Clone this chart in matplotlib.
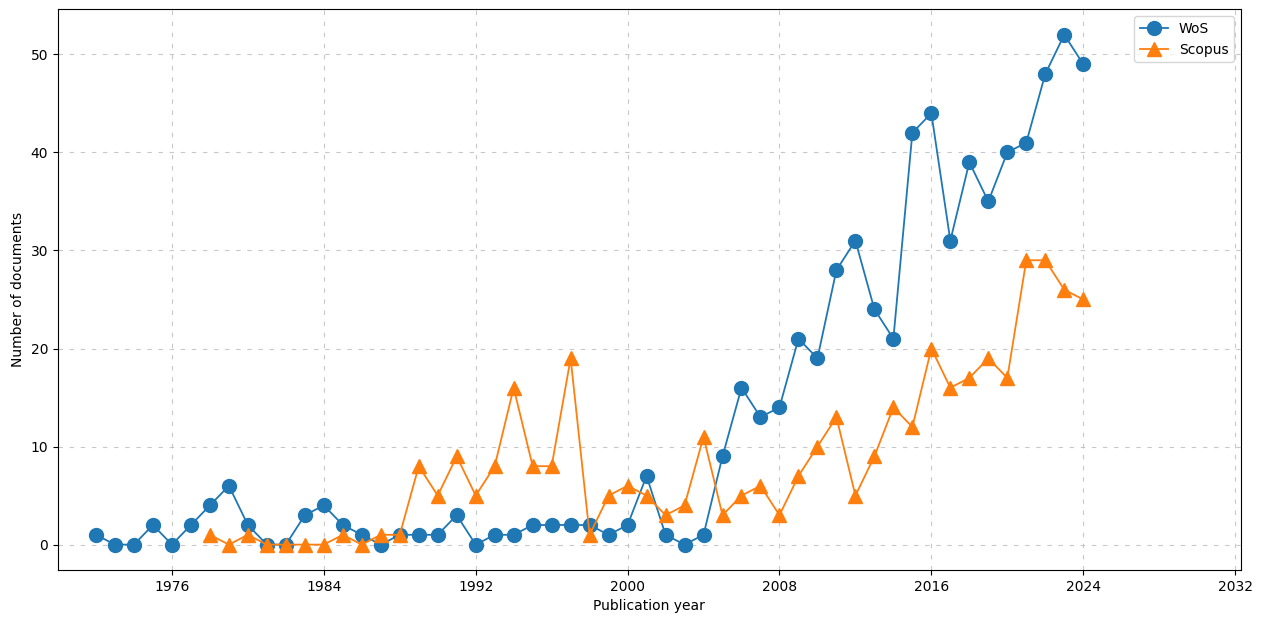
import numpy as np
import matplotlib.pyplot as plt

# publication counts per year for the two databases
wos_years = list(range(1972, 2025))
wos_counts = [1, 0, 0, 2, 0, 2, 4, 6, 2, 0,
              0, 3, 4, 2, 1, 0, 1, 1, 1, 3,
              0, 1, 1, 2, 2, 2, 2, 1, 2, 7,
              1, 0, 1, 9, 16, 13, 14, 21, 19, 28,
              31, 24, 21, 42, 44, 31, 39, 35, 40, 41,
              48, 52, 49]

scopus_years = list(range(1978, 2025))
scopus_counts = [1, 0, 1, 0, 0, 0, 0, 1, 0, 1,
                 1, 8, 5, 9, 5, 8, 16, 8, 8, 19,
                 1, 5, 6, 5, 3, 4, 11, 3, 5, 6,
                 3, 7, 10, 13, 5, 9, 14, 12, 20, 16,
                 17, 19, 17, 29, 29, 26, 25]

fig = plt.figure(figsize=(12.61, 6.17), dpi=100)
ax = fig.add_axes([0.046, 0.076, 0.938, 0.909])

ax.plot(wos_years, wos_counts, marker='o', markersize=10, linewidth=1.3, label='WoS')
ax.plot(scopus_years, scopus_counts, marker='^', markersize=10, linewidth=1.3, label='Scopus')

ax.set_xlim(1970.0, 2032.3)
ax.set_xticks(np.arange(1976, 2033, 8))
ax.set_xlabel('Publication year')
ax.set_ylabel('Number of documents')
ax.grid(True, linestyle=(0, (4, 6)), linewidth=0.8, color='#bbbbbb', alpha=0.8)
ax.legend(loc='upper right')

fig.savefig('out.png', dpi=100)
